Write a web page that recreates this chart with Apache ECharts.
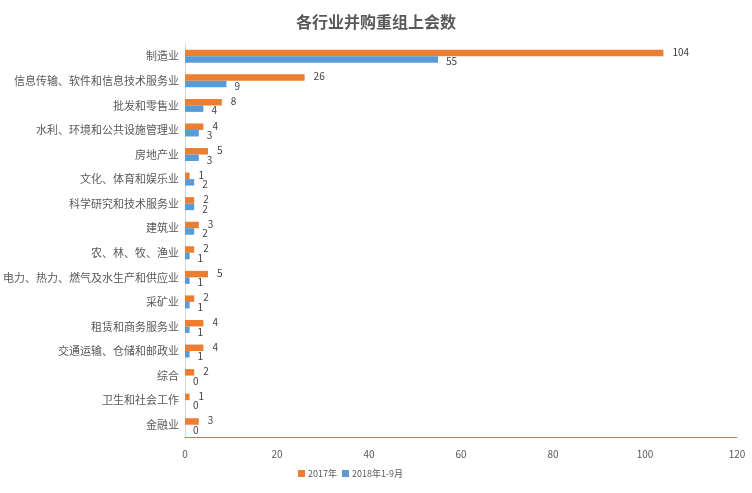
<!DOCTYPE html>
<html><head><meta charset="utf-8">
<script src="https://cdn.jsdelivr.net/npm/echarts@6/dist/echarts.min.js"></script>
<style>html,body{margin:0;padding:0;background:#fff}#c{width:752px;height:493px}</style>
</head><body><div id="c"></div>
<script>
var categories = ['制造业','信息传输、软件和信息技术服务业','批发和零售业','水利、环境和公共设施管理业','房地产业','文化、体育和娱乐业','科学研究和技术服务业','建筑业','农、林、牧、渔业','电力、热力、燃气及水生产和供应业','采矿业','租赁和商务服务业','交通运输、仓储和邮政业','综合','卫生和社会工作','金融业'];
var values2017 = [104,26,8,4,5,1,2,3,2,5,2,4,4,2,1,3];
var values2018 = [55,9,4,3,3,2,2,2,1,1,1,1,1,0,0,0];
var xTicks = [0,20,40,60,80,100,120];
var font = '"Microsoft YaHei","Noto Sans CJK SC",sans-serif';
var chart = echarts.init(document.getElementById('c'));
chart.setOption({
  animation:false,
  title:{text:'各行业并购重组上会数',left:'center',top:9,textStyle:{fontSize:16,fontWeight:'bold',color:'#595959',fontFamily:font}},
  legend:{bottom:10,left:293,itemWidth:7,itemHeight:7,itemGap:5,icon:'rect',textStyle:{fontSize:9,color:'#595959',fontFamily:font,padding:[0,0,0,-2]},data:['2017年','2018年1-9月']},
  grid:{left:184,right:15,top:44,bottom:56,containLabel:false},
  xAxis:{type:'value',min:xTicks[0],max:xTicks[xTicks.length-1],interval:20,
    axisLine:{show:true,lineStyle:{color:'#5B9BD5',width:1}},axisTick:{show:false},splitLine:{show:false},
    axisLabel:{color:'#595959',fontSize:10,margin:12,fontFamily:font}},
  yAxis:{type:'category',inverse:true,data:categories,
    axisLine:{show:true,lineStyle:{color:'#D9D9D9'}},axisTick:{show:false},
    axisLabel:{color:'#595959',fontSize:11,margin:6,fontFamily:font}},
  series:[
    {name:'2017年',type:'bar',data:values2017,barWidth:6.5,barGap:'0%',itemStyle:{color:'#ED7D31'},
     label:{show:true,position:'right',distance:9,fontSize:10,color:'#404040',offset:[0,-1],fontFamily:font}},
    {name:'2018年1-9月',type:'bar',data:values2018,barWidth:6.5,barGap:'0%',itemStyle:{color:'#5B9BD5'},
     label:{show:true,position:'right',distance:8,fontSize:10,color:'#404040',offset:[0,2],fontFamily:font}}
  ]
});
</script></body></html>
